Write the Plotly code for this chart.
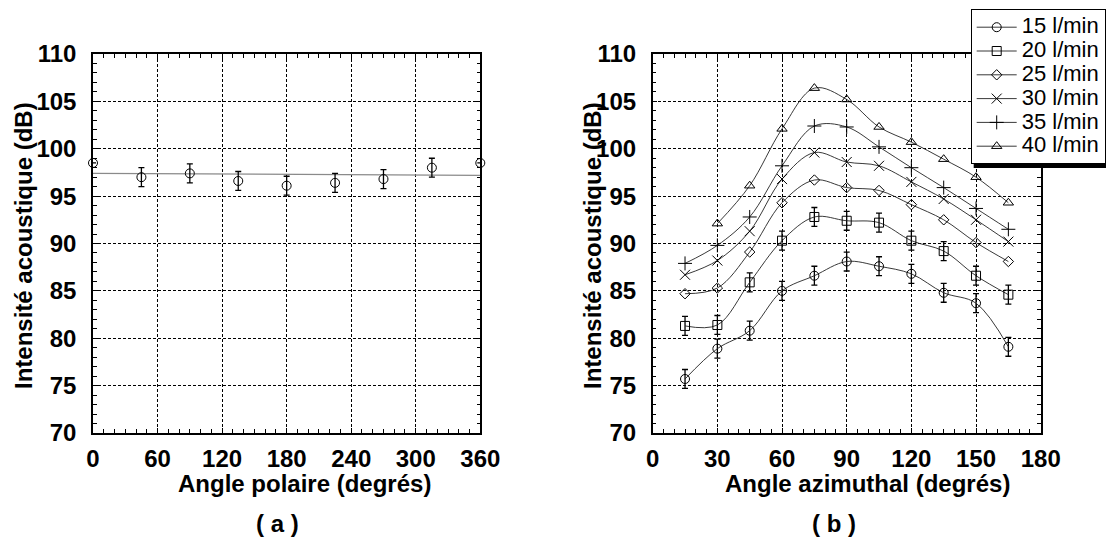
import plotly.graph_objects as go

# ---------------- data ----------------
# (a) polar angle
polar_angle = [0, 45, 90, 135, 180, 225, 270, 315, 360]
polar_db = [98.5, 97.0, 97.4, 96.6, 96.1, 96.4, 96.8, 98.0, 98.5]
polar_err = [0, 1.0, 1.0, 1.0, 1.0, 1.0, 1.0, 1.0, 0]
fit_angle = [0, 360]
fit_db = [97.4, 97.2]

# (b) azimuthal angle
azim_angle = [15, 30, 45, 60, 75, 90, 105, 120, 135, 150, 165]
flow_labels = ["15 l/min", "20 l/min", "25 l/min", "30 l/min", "35 l/min", "40 l/min"]
db_15 = [75.7, 78.9, 80.8, 85.0, 86.6, 88.1, 87.6, 86.8, 84.8, 83.7, 79.1]
db_20 = [81.3, 81.4, 85.9, 90.3, 92.8, 92.4, 92.2, 90.3, 89.2, 86.6, 84.6]
db_25 = [84.7, 85.3, 89.1, 94.3, 96.7, 95.9, 95.6, 94.1, 92.5, 90.1, 88.1]
db_30 = [86.7, 88.2, 91.3, 96.8, 99.6, 98.6, 98.2, 96.5, 94.7, 92.5, 90.2]
db_35 = [87.9, 89.8, 92.8, 98.2, 102.4, 102.3, 100.2, 98.0, 95.9, 93.7, 91.5]
db_40 = [None, 92.1, 96.1, 102.1, 106.4, 105.2, 102.3, 100.7, 98.9, 97.0, 94.3]
err_15 = [1.0] * 11
err_20 = [1.0] * 11

W, H = 1106, 542
def px(x):
    return x / W
def py(y):
    return 1 - y / H

FONT = "Liberation Sans"
BOLD = dict(family=FONT, size=24, color="black", weight="bold")

fig = go.Figure()

# ---- (a)
fig.add_trace(go.Scatter(x=fit_angle, y=fit_db, mode="lines",
                         line=dict(color="#8a8a8a", width=1.2),
                         showlegend=False, xaxis="x", yaxis="y"))
fig.add_trace(go.Scatter(x=polar_angle, y=polar_db, mode="markers",
                         marker=dict(symbol="circle-open", size=9, color="black",
                                     line=dict(width=1, color="black")),
                         error_y=dict(type="data", array=polar_err, color="black",
                                      thickness=1.3, width=3),
                         cliponaxis=False, showlegend=False, xaxis="x", yaxis="y"))

# ---- (b)
series = [db_15, db_20, db_25, db_30, db_35, db_40]
symbols = ["circle-open", "square-open", "diamond-open", "x-thin-open",
           "cross-thin-open", "triangle-up-open"]
sizes = [9, 9, 8, 10, 10, 9]
errs = [err_15, err_20, None, None, None, None]
for lab, ys, sym, sz, er in zip(flow_labels, series, symbols, sizes, errs):
    kw = {}
    if er is not None:
        kw["error_y"] = dict(type="data", array=er, color="black",
                             thickness=1.3, width=3)
    fig.add_trace(go.Scatter(
        x=azim_angle, y=ys,
        name='<span style="font-size:22px">' + lab + "</span>",
        mode="lines+markers",
        line=dict(color="#222222", width=0.9, shape="spline", smoothing=1.0),
        marker=dict(symbol=sym, size=sz, color="black",
                    line=dict(width=1, color="black")),
        connectgaps=False, cliponaxis=False, xaxis="x2", yaxis="y2", **kw))

common_axis = dict(
    showgrid=True, gridcolor="black", gridwidth=1, griddash="3px,2px",
    showline=True, linecolor="black", linewidth=1.5, mirror="allticks",
    ticks="inside", ticklen=5, tickcolor="black", tickwidth=1,
    zeroline=False, tickfont=BOLD,
)

ydom = [py(433), py(54)]
fig.update_layout(
    width=W, height=H,
    paper_bgcolor="white", plot_bgcolor="white",
    margin=dict(l=0, r=0, t=0, b=0, autoexpand=False),
    font=dict(family=FONT, color="black"),
    xaxis=dict(domain=[px(93), px(480.3)], range=[0, 360], dtick=60, tick0=0,
               ticklabelstandoff=3,
               minor=dict(dtick=10, ticks="inside", ticklen=4, tickcolor="black",
                          showgrid=False),
               anchor="y", **common_axis),
    yaxis=dict(domain=ydom, range=[70, 110], dtick=5, tick0=70,
               ticklabelstandoff=10,
               minor=dict(dtick=1, ticks="inside", ticklen=4, tickcolor="black",
                          showgrid=False),
               anchor="x", **common_axis),
    xaxis2=dict(domain=[px(652.7), px(1040.7)], range=[0, 180], dtick=30, tick0=0,
                ticklabelstandoff=3,
                minor=dict(dtick=5, ticks="inside", ticklen=4, tickcolor="black",
                           showgrid=False),
                anchor="y2", **common_axis),
    yaxis2=dict(domain=ydom, range=[70, 110], dtick=5, tick0=70,
                ticklabelstandoff=10,
                minor=dict(dtick=1, ticks="inside", ticklen=4, tickcolor="black",
                           showgrid=False),
                anchor="x2", **common_axis),
    legend=dict(x=px(970.7), y=py(9.3), xanchor="left", yanchor="top",
                bgcolor="white", bordercolor="black", borderwidth=1,
                font=dict(family=FONT, size=16, color="black"),
                itemwidth=40, tracegroupgap=0),
    showlegend=True,
)

# legend drop shadow
fig.add_shape(type="rect", xref="paper", yref="paper",
              x0=px(973.7), x1=px(1125), y0=py(168), y1=py(12.3),
              fillcolor="black", line=dict(width=0), layer="above")

ann = [
    dict(text="Angle polaire (degrés)", x=px(304.5), y=py(483)),
    dict(text="Angle azimuthal (degrés)", x=px(867), y=py(483)),
    dict(text="( a )", x=px(277), y=py(523)),
    dict(text="( b )", x=px(834), y=py(523)),
    dict(text="Intensité acoustique (dB)", x=px(23), y=py(246), textangle=-90),
    dict(text="Intensité acoustique (dB)", x=px(592), y=py(246), textangle=-90),
]
for a in ann:
    fig.add_annotation(xref="paper", yref="paper", showarrow=False,
                       xanchor="center", yanchor="middle", font=BOLD, **a)

fig.write_html("out.html",
               config={"displayModeBar": False},
               post_script="document.body.style.margin='0';document.body.style.padding='0';")
